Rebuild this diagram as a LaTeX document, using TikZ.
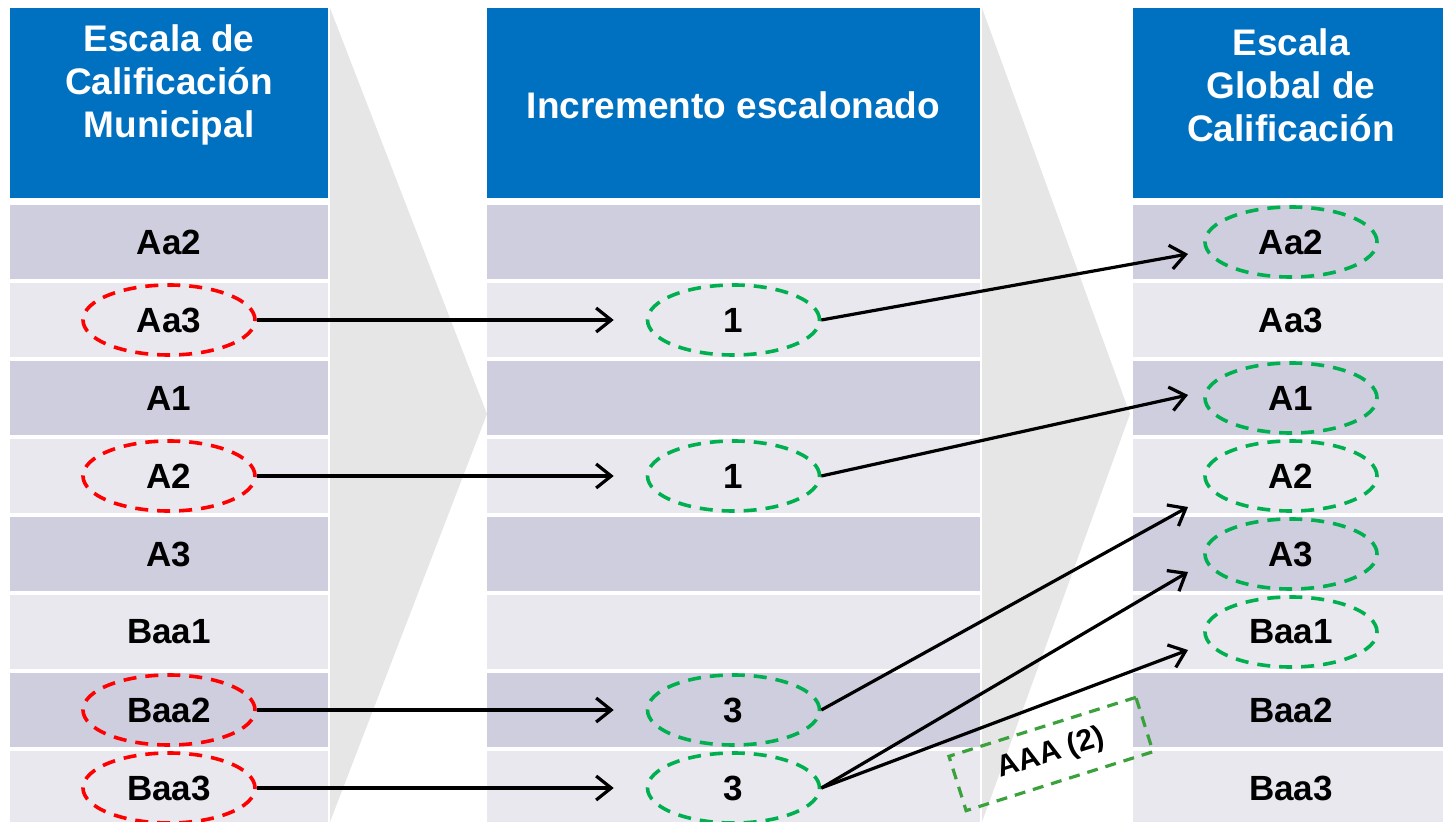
\documentclass[tikz,border=0pt]{standalone}
\usepackage{fontspec}
\setmainfont{Liberation Sans}
\usepackage{tikz}
\usetikzlibrary{shapes.geometric,arrows.meta}
\definecolor{hdrblue}{RGB}{0,112,192}
\definecolor{rowdark}{RGB}{207,206,223}
\definecolor{rowlight}{RGB}{232,232,238}
\definecolor{chevgray}{RGB}{230,230,230}
\definecolor{ringgreen}{RGB}{0,176,80}
\definecolor{boxgreen}{RGB}{60,160,60}
\tikzstyle{hdr} = [fill=hdrblue, minimum height=95pt, inner sep=0pt]
\tikzstyle{htext} = [text=white, align=center, font=\bfseries\fontsize{18.5}{21.5}\selectfont]
\tikzstyle{rowcell} = [minimum height=37pt, inner sep=0pt, font=\bfseries\fontsize{17.5}{20}\selectfont]
\tikzstyle{lcol} = [minimum width=159pt]
\tikzstyle{mcol} = [minimum width=246.5pt]
\tikzstyle{rcol} = [minimum width=158pt]
\tikzstyle{ring} = [ellipse, dash pattern=on 6.5pt off 4.5pt, line width=1.8pt, minimum width=86pt, minimum height=35pt]
\tikzstyle{redring} = [ring, draw=red]
\tikzstyle{greenring} = [ring, draw=ringgreen]
\tikzstyle{arr} = [-{Straight Barb[length=7.5pt,width=12pt]}, line width=1.6pt]
\tikzstyle{aaabox} = [draw=boxgreen, dash pattern=on 5.5pt off 4pt, line width=1.6pt, minimum width=98pt, minimum height=28.5pt, inner sep=0pt, font=\bfseries\fontsize{15}{18}\selectfont]

\begin{document}
\begin{tikzpicture}[x=0.5pt, y=-0.5pt]
\useasboundingbox (0,0) rectangle (1443,822);
% chevrons
\fill[chevgray] (330,8) -- (487,414) -- (330,822) -- cycle;
\fill[chevgray] (982,8) -- (1130,414) -- (982,822) -- cycle;
% headers
\node[hdr, lcol] (hm) at (169,103) {};
\node[htext] (hmt) at (169,85) {Escala de\\Calificación\\Municipal};
\node[hdr, mcol] (hi) at (733.5,103) {};
\node[htext] (hit) at (733.5,105) {Incremento escalonado};
\node[hdr, rcol] (hg) at (1291,103) {};
\node[htext] (hgt) at (1291,85) {Escala\\Global de\\Calificación};
% rows
\foreach \lab/\inc [count=\i] in {Aa2/{}, Aa3/1, A1/{}, A2/1, A3/{}, Baa1/{}, Baa2/3, Baa3/3} {
  \pgfmathsetmacro{\y}{164+78*\i}
  \ifodd\i \def\rowcol{rowdark}\else \def\rowcol{rowlight}\fi
  \node[rowcell, lcol, fill=\rowcol] (m\i) at (169,\y) {\lab};
  \node[rowcell, mcol, fill=\rowcol] (i\i) at (733.5,\y) {\inc};
  \node[rowcell, rcol, fill=\rowcol] (g\i) at (1291,\y) {\lab};
}
% rings
\node[redring] (rm2) at (m2) {};
\node[redring] (rm4) at (m4) {};
\node[redring] (rm7) at (m7) {};
\node[redring] (rm8) at (m8) {};
\node[greenring] (ri2) at (i2) {};
\node[greenring] (ri4) at (i4) {};
\node[greenring] (ri7) at (i7) {};
\node[greenring] (ri8) at (i8) {};
\node[greenring] (rg1) at (g1) {};
\node[greenring] (rg3) at (g3) {};
\node[greenring] (rg4) at (g4) {};
\node[greenring] (rg5) at (g5) {};
\node[greenring] (rg6) at (g6) {};
% arrow ends
\coordinate (t1) at (1188,254);
\coordinate (t3) at (1188,395);
\coordinate (t4) at (1188,507);
\coordinate (t5) at (1188,572);
\coordinate (t6) at (1188,650);
\draw[arr, shorten >=16pt] (rm2) -- (ri2);
\draw[arr, shorten >=16pt] (rm4) -- (ri4);
\draw[arr, shorten >=16pt] (rm7) -- (ri7);
\draw[arr, shorten >=16pt] (rm8) -- (ri8);
\draw[arr] (ri2.east) -- (t1);
\draw[arr] (ri4.east) -- (t3);
\draw[arr] (ri7.east) -- (t4);
\draw[arr] (ri8.east) -- (t5);
\draw[arr] (ri8.east) -- (t6);
\node[aaabox, rotate=17.5] (aaa) at (1051,754) {AAA (2)};
\end{tikzpicture}
\end{document}
